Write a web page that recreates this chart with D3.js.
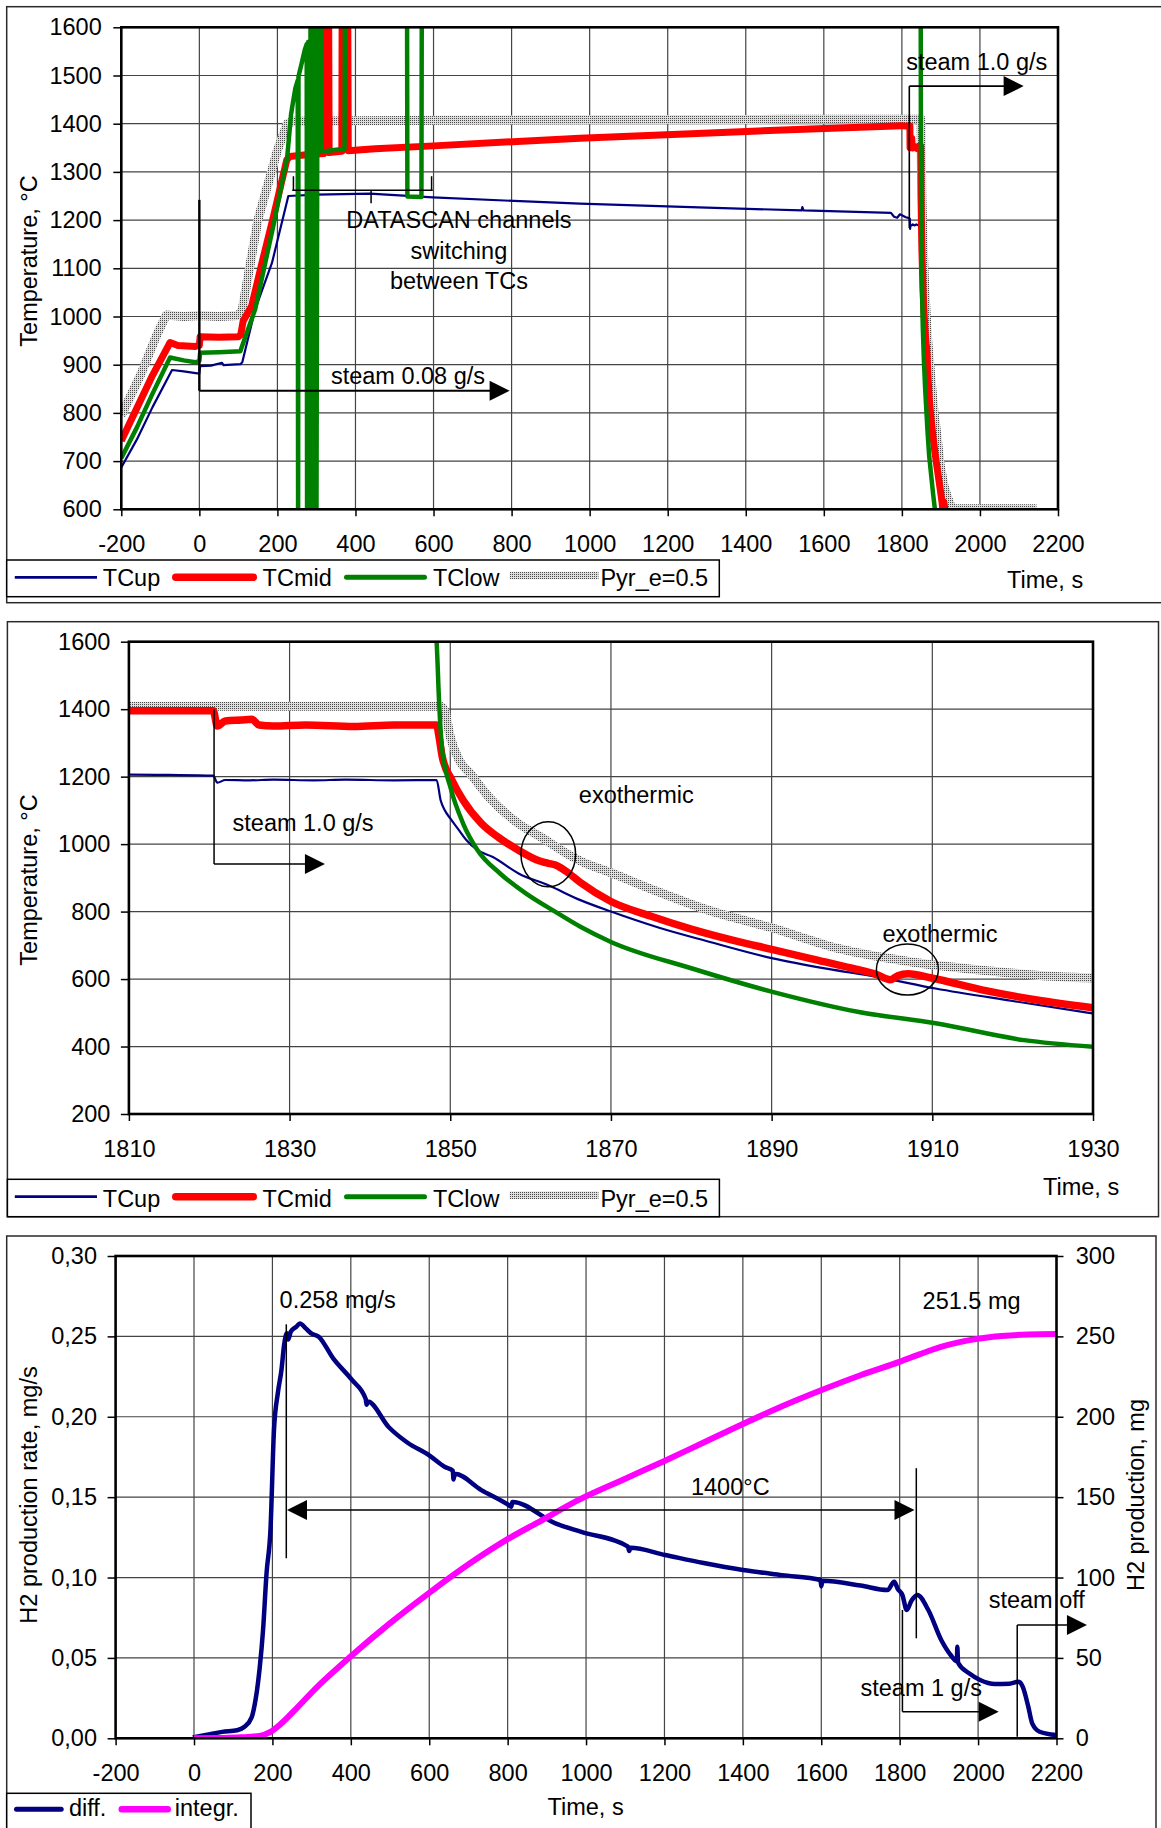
<!DOCTYPE html>
<html>
<head>
<meta charset="utf-8">
<script src="https://cdn.jsdelivr.net/npm/d3@7"></script>
<style>
  body { margin: 0; background: #fff; }
  svg text { font-family: "Liberation Sans", Arial, Helvetica, sans-serif; font-size: 23.5px; fill: #000; }
</style>
</head>
<body>
<svg id="fig" width="1161" height="1828"></svg>
<script>
// ---------------- tick values ----------------
const runTimeTicks = [-200, 0, 200, 400, 600, 800, 1000, 1200, 1400, 1600, 1800, 2000, 2200];
const runTempTicks = [600, 700, 800, 900, 1000, 1100, 1200, 1300, 1400, 1500, 1600];
const coolTimeTicks = [1810, 1830, 1850, 1870, 1890, 1910, 1930];
const coolTempTicks = [200, 400, 600, 800, 1000, 1200, 1400, 1600];
const rateTicks = [0, 0.05, 0.10, 0.15, 0.20, 0.25, 0.30];
const massTicks = [0, 50, 100, 150, 200, 250, 300];

// ---------------- legend labels ----------------
const tempSeriesNames = ["TCup", "TCmid", "TClow", "Pyr_e=0.5"];
const h2SeriesNames = ["diff.", "integr."];

// ---------------- thermocouple readings [time s, °C] ----------------
const tcUp = [[-200,687],[-160,745],[-120,812],[-70,889],[-40,886],[-5,882],[0,882],[2,897],[30,898],[58,904],[62,899],[105,901],[110,905],[143,1015],[186,1111],[228,1250],[300,1253],[437,1255],[598,1247],[975,1234],[1300,1226],[1543,1220],[1545,1227],[1548,1220],[1772,1215],[1780,1207],[1788,1205],[1795,1212],[1810,1206],[1815,1205],[1820.5,1203],[1821,1182],[1822,1190],[1825,1189],[1828,1191],[1833,1189],[1837,1191],[1843,1189],[1848.3,1190],[1848.8,1130],[1849.3,1101],[1850,1076],[1851.1,1041],[1852,1012],[1853.4,982],[1855.3,962],[1858.5,913],[1862.2,878],[1866.2,834],[1870,800],[1876,752],[1882,712],[1890,662],[1897,630],[1903,607],[1910.4,572],[1920,535],[1930,498]];

const tcMid = [[-200,742],[-160,810],[-120,878],[-75,946],[-55,940],[-10,938],[0,940],[2,958],[50,957],[100,958],[106,962],[112,990],[134,1022],[160,1110],[190,1208],[224,1325],[232,1332],[280,1336],[319,1338],[320.5,1700],[331,1700],[332.5,1340],[365,1343],[366,1700],[380,1700],[381.5,1344],[450,1348],[600,1354],[975,1370],[1402,1384],[1800,1396],[1810,1395],[1820.5,1395],[1821,1350],[1822,1365],[1824,1368],[1825.3,1370],[1826.2,1353],[1828,1350],[1832,1353],[1838,1349],[1843,1353],[1848.3,1353],[1848.6,1318],[1849,1259],[1850.2,1190],[1851.6,1130],[1853.9,1061],[1856,1020],[1858.5,982],[1860.8,953],[1862.2,943],[1863.1,938],[1864.5,918],[1866.2,886],[1870,830],[1875,786],[1880,748],[1885,716],[1890,688],[1895,660],[1900,632],[1903,614],[1904.8,598],[1905.7,610],[1907,616],[1909.9,603],[1916.8,565],[1923,538],[1930,515]];

const tcLow = [[-200,706],[-160,770],[-120,840],[-75,915],[-40,909],[-10,905],[0,908],[2,925],[50,926],[105,928],[110,940],[143,1015],[190,1190],[225,1330],[235,1420],[240,1445],[246,1474],[252,1490],[253,560],[254,1498],[262,1525],[270,1553],[275,1565],[276,560],[279,1570],[282,560],[285,1700],[288,560],[291,1700],[294,560],[297,1700],[300,560],[303,1700],[311,1700],[312,1342],[340,1345],[372,1348],[373,1700],[532,1700],[533,1249],[569,1248],[570,1700],[1847.8,1700],[1848.3,1600],[1848.6,1426],[1849,1278],[1850,1170],[1851.6,1061],[1853.4,982],[1856.2,913],[1859.4,854],[1863.1,799],[1866.2,755],[1870,710],[1880,632],[1890.1,562],[1900.7,503],[1910.4,469],[1921.4,419],[1930,399]];

const pyr = [[-200,795],[-150,880],[-110,960],[-85,1003],[-40,1000],[0,1002],[50,1000],[100,1002],[110,1015],[150,1200],[200,1345],[225,1400],[240,1405],[600,1407],[1000,1408],[1500,1409],[1848.8,1409],[1849.3,1397],[1850,1318],[1851.1,1249],[1852.5,1209],[1854.8,1140],[1858.5,1061],[1861.2,1022],[1864.5,972],[1866.2,950],[1870,915],[1875.3,864],[1882,805],[1890,752],[1898.4,690],[1907.6,650],[1916.8,625],[1925,608],[1930,603],[1940,601],[2145,601]];

// ---------------- hydrogen release [time s, mg/s] and [time s, mg] ----------------
const h2Rate = [[-3,0.0006],[30,0.002],[72,0.004],[110,0.005],[128,0.007],[147,0.013],[157,0.024],[167,0.0425],[176,0.067],[185,0.1026],[195,0.1296],[204,0.1918],[214,0.215],[223,0.229],[230,0.245],[237,0.252],[240,0.248],[247,0.253],[261,0.256],[270,0.258],[285,0.255],[298,0.252],[318,0.2498],[355,0.2363],[403,0.2229],[438,0.211],[440,0.2075],[443,0.2095],[497,0.1935],[544,0.1840],[600,0.176],[639,0.1689],[660,0.1665],[662,0.161],[665,0.1645],[733,0.1544],[800,0.1455],[809,0.1440],[812,0.147],[922,0.1337],[986,0.1285],[1107,0.1192],[1110,0.1165],[1113,0.1185],[1202,0.114],[1300,0.109],[1400,0.1047],[1500,0.1015],[1598,0.0985],[1600,0.0945],[1603,0.098],[1700,0.095],[1769,0.0922],[1786,0.0974],[1795,0.093],[1807,0.0891],[1818,0.0798],[1830,0.0855],[1845,0.0891],[1873,0.0798],[1906,0.0611],[1930,0.0518],[1946,0.048],[1947,0.057],[1949,0.047],[1977,0.0404],[2005,0.0363],[2043,0.0338],[2080,0.034],[2104,0.0352],[2114,0.032],[2128,0.0197],[2138,0.0093],[2157,0.0041],[2199,0.002]];

const h2Mass = [[0,0],[60,0.2],[120,0.6],[167,1.5],[195,4.0],[223,9.3],[261,18.5],[308,30.5],[400,51],[497,71],[600,90.5],[705,109],[801,124],[875,134],[985,148.8],[1100,161.5],[1200,172.5],[1300,184],[1400,195.5],[1500,206.5],[1601,216.6],[1700,225.8],[1801,234.3],[1850,238.8],[1901,243.2],[1950,246.3],[2002,248.6],[2060,250.2],[2128,251.2],[2200,251.5]];

// ---------------- drawing ----------------
const svg = d3.select("#fig");
const defs = svg.append("defs");

// fine stipple used for the pyrometer trace
const pat = defs.append("pattern").attr("id", "stipple")
  .attr("width", 2).attr("height", 2).attr("patternUnits", "userSpaceOnUse");
pat.append("rect").attr("width", 2).attr("height", 2).attr("fill", "#dedede");
pat.append("rect").attr("width", 1).attr("height", 1).attr("fill", "#4a4a4a");

const tempStyles = {
  "TCup":      { color: "#000080", width: 2.2 },
  "TCmid":     { color: "#ff0000", width: 7 },
  "TClow":     { color: "#008000", width: 4.5 },
  "Pyr_e=0.5": { color: "url(#stipple)", width: 9 }
};
const h2Styles = {
  "diff.":   { color: "#000080", width: 4.5 },
  "integr.": { color: "#ff00ff", width: 6 }
};

function frame(x, y, w, h) {
  svg.append("rect").attr("x", x).attr("y", y).attr("width", w).attr("height", h)
    .attr("fill", "none").attr("stroke", "#2a2a2a").attr("stroke-width", 1.5);
}

function gridAndAxes(x, y, xTicks, yTicks, yFmt, leftPad) {
  const [xa, xb] = x.range();
  const [yb, ya] = y.range();
  const g = svg.append("g");
  const xd = x.domain(), yd = y.domain();
  g.selectAll(null).data(xTicks.filter(v => v > xd[0] && v < xd[1])).join("line")
    .attr("x1", d => x(d)).attr("x2", d => x(d)).attr("y1", ya).attr("y2", yb)
    .attr("stroke", "#444").attr("stroke-width", 1.2);
  g.selectAll(null).data(yTicks.filter(v => v > yd[0] && v < yd[1])).join("line")
    .attr("x1", xa).attr("x2", xb).attr("y1", d => y(d)).attr("y2", d => y(d))
    .attr("stroke", "#444").attr("stroke-width", 1.2);

  svg.append("g").attr("transform", `translate(${xa},0)`)
    .call(d3.axisLeft(y).tickValues(yTicks).tickSize(8).tickPadding(leftPad).tickFormat(yFmt))
    .call(a => a.select(".domain").remove())
    .call(a => a.selectAll("line").attr("stroke-width", 1.5));
  svg.append("g").attr("transform", `translate(0,${yb})`)
    .call(d3.axisBottom(x).tickValues(xTicks).tickSize(7).tickPadding(19.3).tickFormat(d => String(d)))
    .call(a => a.select(".domain").remove())
    .call(a => a.selectAll("line").attr("stroke-width", 1.5));
}

function clipFor(id, x, y) {
  const [xa, xb] = x.range();
  const [yb, ya] = y.range();
  defs.append("clipPath").attr("id", id).append("rect")
    .attr("x", xa).attr("y", ya).attr("width", xb - xa).attr("height", yb - ya);
  return svg.append("g").attr("clip-path", `url(#${id})`);
}

function border(x, y) {
  const [xa, xb] = x.range();
  const [yb, ya] = y.range();
  svg.append("rect").attr("x", xa).attr("y", ya).attr("width", xb - xa).attr("height", yb - ya)
    .attr("fill", "none").attr("stroke", "#000").attr("stroke-width", 2.6);
}

function trace(layer, data, x, y, style, curve) {
  layer.append("path").datum(data)
    .attr("fill", "none").attr("stroke", style.color).attr("stroke-width", style.width)
    .attr("stroke-linejoin", "round")
    .attr("d", d3.line().x(d => x(d[0])).y(d => y(d[1])).curve(curve || d3.curveLinear));
}

function label(x, y, text, anchor, rotate) {
  const t = svg.append("text").text(text).attr("text-anchor", anchor || "start");
  if (rotate) t.attr("transform", `translate(${x},${y}) rotate(-90)`);
  else t.attr("x", x).attr("y", y);
  return t;
}

function seg(x1, y1, x2, y2, w) {
  svg.append("line").attr("x1", x1).attr("y1", y1).attr("x2", x2).attr("y2", y2)
    .attr("stroke", "#000").attr("stroke-width", w || 1.5);
}

function head(px, py, dir) {
  const L = 20, H = 10;
  svg.append("path").attr("fill", "#000")
    .attr("d", `M${px},${py}L${px - dir * L},${py - H}L${px - dir * L},${py + H}Z`);
}

function legend(box, names, styles, slots, lineY, textY) {
  svg.append("rect").attr("x", box[0]).attr("y", box[1]).attr("width", box[2]).attr("height", box[3])
    .attr("fill", "#fff").attr("stroke", "#000").attr("stroke-width", 1.5);
  names.forEach((n, i) => {
    const s = slots[i], st = styles[n];
    const w = Math.min(st.width + 0.5, 8);
    const round = st.width >= 4 && !st.color.startsWith("url");
    svg.append("line").attr("x1", s[0] + (round ? w / 2 : 0)).attr("x2", s[1] - (round ? w / 2 : 0))
      .attr("y1", lineY + (s[3] || 0)).attr("y2", lineY + (s[3] || 0))
      .attr("stroke", st.color).attr("stroke-width", st.color.startsWith("url") ? 7.5 : w)
      .attr("stroke-linecap", round ? "round" : "butt");
    label(s[2], textY, n);
  });
}

// ===== Panel 1: whole test =====
frame(6.7, 6.7, 1170, 596);
const x1 = d3.scaleLinear().domain([-200, 2200]).range([121.3, 1058]);
const y1 = d3.scaleLinear().domain([600, 1600]).range([509.3, 27.3]);
gridAndAxes(x1, y1, runTimeTicks, runTempTicks, d => String(d), 11.6);
const L1 = clipFor("clip1", x1, y1);
trace(L1, pyr, x1, y1, tempStyles["Pyr_e=0.5"]);
trace(L1, tcUp, x1, y1, tempStyles["TCup"]);
trace(L1, tcMid, x1, y1, tempStyles["TCmid"]);
trace(L1, tcLow, x1, y1, tempStyles["TClow"]);
border(x1, y1);
label(37, 261, "Temperature, °C", "middle", true);
label(1007, 588, "Time, s");

// steam 0.08 g/s
seg(x1(0), y1(1242), x1(0), y1(846), 2.4);
seg(x1(0), y1(846), x1(780), y1(846), 2.2);
head(x1(795), y1(846), 1);
label(x1(337), y1(859), "steam 0.08 g/s");
// channel switching bracket
seg(x1(238), y1(1262), x1(598), y1(1262), 1.5);
seg(x1(241), y1(1262), x1(241), y1(1291), 1.5);
seg(x1(595), y1(1262), x1(595), y1(1291), 1.5);
seg(x1(440), y1(1262), x1(440), y1(1235), 1.5);
label(x1(665), y1(1184), "DATASCAN channels", "middle");
label(x1(665), y1(1120), "switching", "middle");
label(x1(665), y1(1058), "between TCs", "middle");
// steam 1.0 g/s
seg(x1(1819), y1(1184), x1(1819), y1(1478), 1.6);
seg(x1(1819), y1(1478), x1(2100), y1(1478), 1.6);
head(x1(2112), y1(1478), 1);
label(x1(1811), y1(1512), "steam 1.0 g/s");

legend([6.7, 560, 712.6, 36.7], tempSeriesNames, tempStyles,
  [[14.8, 97, 102.8], [172, 257, 262.6], [344, 427, 433], [509.7, 598.5, 600.4, -1.8]], 577.3, 586);

// ===== Panel 2: cool-down detail =====
frame(7.4, 621.7, 1151.1, 595);
const x2 = d3.scaleLinear().domain([1810, 1930]).range([128.9, 1093]);
const y2 = d3.scaleLinear().domain([200, 1600]).range([1114, 641.7]);
gridAndAxes(x2, y2, coolTimeTicks, coolTempTicks, d => String(d), 10.5);
const L2 = clipFor("clip2", x2, y2);
trace(L2, pyr, x2, y2, tempStyles["Pyr_e=0.5"], d3.curveMonotoneX);
trace(L2, tcUp, x2, y2, tempStyles["TCup"], d3.curveMonotoneX);
trace(L2, tcMid, x2, y2, { color: "#ff0000", width: 7.5 }, d3.curveMonotoneX);
trace(L2, tcLow, x2, y2, tempStyles["TClow"], d3.curveMonotoneX);
border(x2, y2);
label(37, 880, "Temperature, °C", "middle", true);
label(1043, 1195, "Time, s");

seg(x2(1820.6), y2(1400), x2(1820.6), y2(940.7), 1.5);
seg(x2(1820.6), y2(940.7), x2(1832.5), y2(940.7), 1.5);
head(x2(1834.4), y2(940.7), 1);
label(x2(1822.9), y2(1039.4), "steam 1.0 g/s");
label(x2(1866), y2(1122.4), "exothermic");
label(x2(1903.8), y2(710.5), "exothermic");
svg.append("ellipse").attr("cx", x2(1862.2)).attr("cy", y2(969.8))
  .attr("rx", x2(1862.2 + 3.4) - x2(1862.2)).attr("ry", y2(969.8 - 96.3) - y2(969.8))
  .attr("fill", "none").attr("stroke", "#000").attr("stroke-width", 1.5);
svg.append("ellipse").attr("cx", x2(1906.9)).attr("cy", y2(628.1))
  .attr("rx", x2(1906.9 + 3.86) - x2(1906.9)).attr("ry", y2(628.1 - 75.6) - y2(628.1))
  .attr("fill", "none").attr("stroke", "#000").attr("stroke-width", 1.5);

legend([7.4, 1179.3, 712, 37.4], tempSeriesNames, tempStyles,
  [[14.8, 97, 102.8], [172, 257, 262.6], [344, 427, 433], [509.7, 598.5, 600.4, -1.4]], 1196.7, 1206.7);

// ===== Panel 3: hydrogen release =====
frame(6.7, 1236, 1149.3, 620);
const x3 = d3.scaleLinear().domain([-200, 2200]).range([115.6, 1056.5]);
const yRate = d3.scaleLinear().domain([0, 0.30]).range([1738.3, 1256]);
const yMass = d3.scaleLinear().domain([0, 300]).range([1738.3, 1256]);
gridAndAxes(x3, yRate, runTimeTicks, rateTicks, d => d3.format(".2f")(d).replace(".", ","), 10.6);
svg.append("g").attr("transform", `translate(${x3.range()[1]},0)`)
  .call(d3.axisRight(yMass).tickValues(massTicks).tickSize(7).tickPadding(12.3).tickFormat(d => String(d)))
  .call(a => a.select(".domain").remove())
  .call(a => a.selectAll("line").attr("stroke-width", 1.5));
const L3 = clipFor("clip3", x3, yRate);
trace(L3, h2Rate, x3, yRate, h2Styles["diff."], d3.curveMonotoneX);
trace(L3, h2Mass, x3, yMass, h2Styles["integr."], d3.curveMonotoneX);
border(x3, yRate);
label(36.5, 1495, "H2 production rate, mg/s", "middle", true);
label(1143.5, 1495, "H2 production, mg", "middle", true);
label(547.5, 1815, "Time, s");

// peak rate marker
label(x3(218.3), yRate(0.2675), "0.258 mg/s");
seg(x3(235.4), yRate(0.2575), x3(235.4), yRate(0.112), 1.5);
// 1400 °C plateau span
seg(x3(250), yRate(0.142), x3(1825), yRate(0.142), 1.5);
head(x3(237.2), yRate(0.142), -1);
head(x3(1837.8), yRate(0.142), 1);
seg(x3(1842.4), yRate(0.168), x3(1842.4), yRate(0.0622), 1.5);
label(x3(1267.6), yRate(0.1513), "1400°C");
// total mass
label(x3(1858.5), yMass(266.8), "251.5 mg");
// steam 1 g/s
seg(x3(1807), yRate(0.0798), x3(1807), yRate(0.01655), 1.5);
seg(x3(1807), yRate(0.01655), x3(2040), yRate(0.01655), 1.5);
head(x3(2052.6), yRate(0.01655), 1);
label(x3(1700), yRate(0.0265), "steam 1 g/s");
// steam off
seg(x3(2099.8), yRate(0.001), x3(2099.8), yRate(0.0705), 1.5);
seg(x3(2099.8), yRate(0.0705), x3(2265), yRate(0.0705), 1.5);
head(x3(2277.6), yRate(0.0705), 1);
label(x3(2027), yRate(0.0809), "steam off");

legend([6.7, 1793.3, 244.3, 60], h2SeriesNames, h2Styles,
  [[14, 63.7, 68.9], [118.5, 171, 174.8]], 1809.3, 1816);
</script>
</body>
</html>
